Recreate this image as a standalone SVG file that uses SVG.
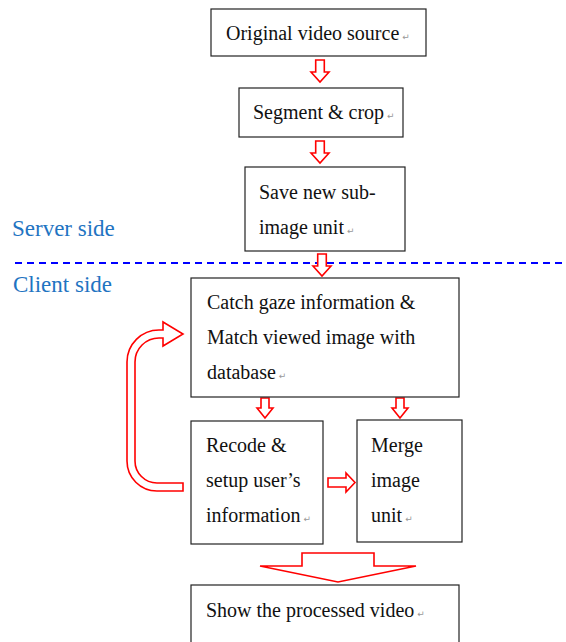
<svg xmlns="http://www.w3.org/2000/svg" width="566" height="642" viewBox="0 0 566 642">
<style>
.box{fill:#fff;stroke:#222;stroke-width:1.2}
.t{font-family:"Liberation Serif","Times New Roman",serif;font-size:20px;fill:#111}
.pm{font-family:"DejaVu Sans",sans-serif;font-size:9px;fill:#999}
.side{font-family:"Liberation Serif","Times New Roman",serif;font-size:23px;fill:#1F74C2}
.arr{fill:#fff;stroke:#f00;stroke-width:1.6;stroke-linejoin:miter}
</style>
<defs>
<path id="da" d="M -4.3 0 L 4.3 0 L 4.3 12 L 9 12 L 0 22 L -9 12 L -4.3 12 Z"/>
<path id="da2" d="M -4 0 L 4 0 L 4 10 L 8 10 L 0 20 L -8 10 L -4 10 Z"/>
</defs>
<rect width="566" height="642" fill="#fff"/>

<text class="side" x="12" y="236">Server side</text>
<text class="side" x="13" y="292">Client side</text>
<line x1="15" y1="263" x2="566" y2="263" stroke="#0000ff" stroke-width="2" stroke-dasharray="7,5"/>

<g id="connectors">
<use href="#da" x="320" y="60" class="arr"/>
<use href="#da" x="320" y="141" class="arr"/>
<use href="#da" x="322" y="254" class="arr"/>
<use href="#da2" x="265" y="398" class="arr"/>
<use href="#da2" x="400" y="398" class="arr"/>
<path class="arr" d="M 328 478 L 346 478 L 346 473 L 355 482.5 L 346 492 L 346 487 L 328 487 Z"/>
<path class="arr" d="M 302 553 L 374 553 L 374 566 L 416 566 L 338 582 L 260 566 L 302 566 Z"/>
<path class="arr" d="M 183 491 L 157 491 A 30 30 0 0 1 127 461 L 127 362 A 32 32 0 0 1 159 330 L 163 330 L 163 322 L 183 334 L 163 346 L 163 338 L 159 338 A 24 24 0 0 0 135 362 L 135 461 A 22 22 0 0 0 157 483 L 183 483 Z"/>
</g>

<g id="n1">
<rect class="box" x="211" y="9" width="215" height="47"/>
<text class="t" x="226" y="40">Original video source<tspan class="pm" dx="3">↵</tspan></text>
</g>
<g id="n2">
<rect class="box" x="239" y="88" width="164" height="49"/>
<text class="t" x="253" y="119">Segment &amp; crop<tspan class="pm" dx="3">↵</tspan></text>
</g>
<g id="n3">
<rect class="box" x="245" y="167" width="160" height="84"/>
<text class="t" x="259" y="199">Save new sub-</text>
<text class="t" x="259" y="234">image unit<tspan class="pm" dx="3">↵</tspan></text>
</g>
<g id="n4">
<rect class="box" x="191" y="278" width="268" height="119"/>
<text class="t" x="207" y="309">Catch gaze information &amp;</text>
<text class="t" x="207" y="344">Match viewed image with</text>
<text class="t" x="207" y="379">database<tspan class="pm" dx="3">↵</tspan></text>
</g>
<g id="n5">
<rect class="box" x="191" y="421" width="132" height="123"/>
<text class="t" x="206" y="452">Recode &amp;</text>
<text class="t" x="206" y="487">setup user’s</text>
<text class="t" x="206" y="522">information<tspan class="pm" dx="3">↵</tspan></text>
</g>
<g id="n6">
<rect class="box" x="357" y="420" width="105" height="122"/>
<text class="t" x="371" y="452">Merge</text>
<text class="t" x="371" y="487">image</text>
<text class="t" x="371" y="522">unit<tspan class="pm" dx="3">↵</tspan></text>
</g>
<g id="n7">
<rect class="box" x="191" y="585" width="268" height="70"/>
<text class="t" x="206" y="617">Show the processed video<tspan class="pm" dx="3">↵</tspan></text>
</g>
</svg>
